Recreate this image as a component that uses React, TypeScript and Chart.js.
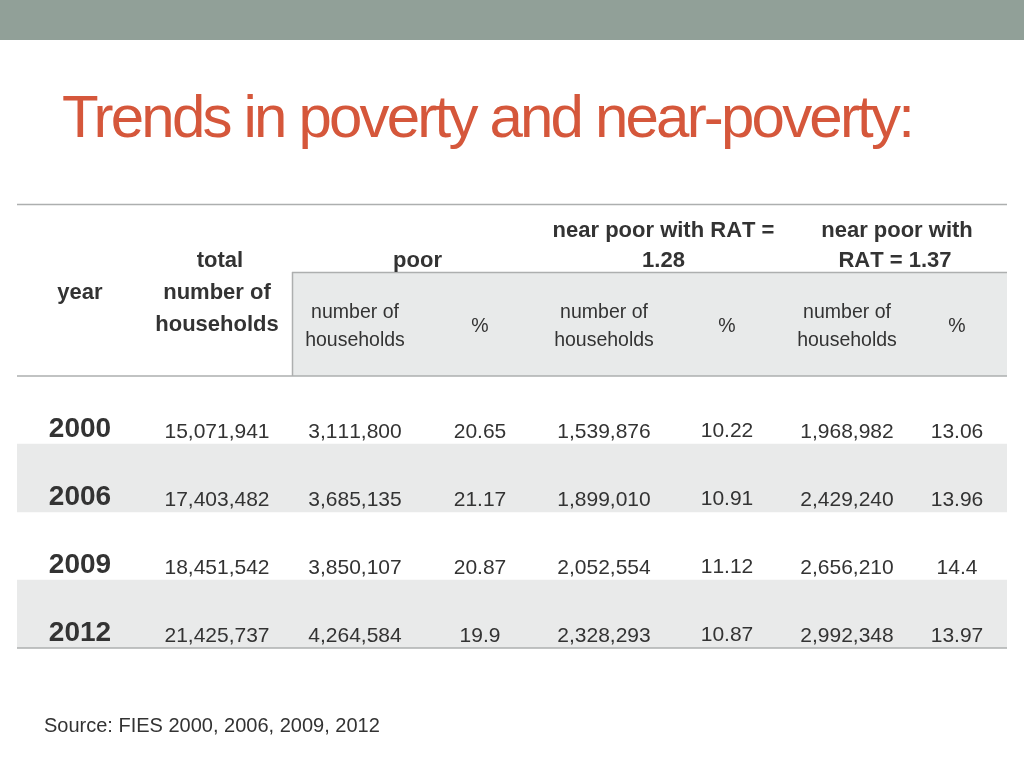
import React, { useEffect, useRef } from "react";
import { Chart, registerables } from "chart.js";

Chart.register(...registerables);

// ---- data ----
const TITLE = "Trends in poverty and near-poverty:";
const SOURCE = "Source: FIES 2000, 2006, 2009, 2012";
const YEARS = ["2000", "2006", "2009", "2012"];
const TOTAL_HH = [15071941, 17403482, 18451542, 21425737];
const POOR_HH = [3111800, 3685135, 3850107, 4264584];
const POOR_PCT = ["20.65", "21.17", "20.87", "19.9"];
const NP128_HH = [1539876, 1899010, 2052554, 2328293];
const NP128_PCT = ["10.22", "10.91", "11.12", "10.87"];
const NP137_HH = [1968982, 2429240, 2656210, 2992348];
const NP137_PCT = ["13.06", "13.96", "14.4", "13.97"];
const GROUP_HEADERS = [
  ["near poor with RAT =", "1.28"],
  ["near poor with", "RAT = 1.37"],
];
const SUB_NUM = ["number of", "households"];
const SUB_PCT = "%";

// ---- layout (positions / styles) ----
const W = 1024;
const H = 768;
const TABLE_LEFT = 17;
const TABLE_RIGHT = 1007;
const BODY_TOP = 376;
const BODY_BOTTOM = 648;
const BOX_LEFT = 292;
const COL_X = [80, 217, 355, 480, 604, 727, 847, 957];
const FONT = '"Liberation Sans", Arial, Helvetica, sans-serif';
const TEXT = "#333333";
const LINE = "#adafaf";
const BAND = "#e9eaea";

const fmt = (v: number) => v.toLocaleString("en-US");

const slidePlugin = {
  id: "slide",
  beforeDraw(chart: any) {
    const ctx = chart.ctx;
    ctx.save();
    ctx.fillStyle = "#ffffff";
    ctx.fillRect(0, 0, W, H);
    ctx.fillStyle = "#91a098";
    ctx.fillRect(0, 0, W, 40);
    ctx.fillStyle = "#e8eaea";
    ctx.fillRect(BOX_LEFT, 272, TABLE_RIGHT - BOX_LEFT, BODY_TOP - 272);
    ctx.restore();
  },
  afterDraw(chart: any) {
    const ctx = chart.ctx;
    const xs = chart.scales.x;
    const ys = chart.scales.y;
    const area = chart.chartArea;
    ctx.save();

    // title
    ctx.font = `60px ${FONT}`;
    ctx.fillStyle = "#d5573b";
    ctx.textAlign = "left";
    ctx.textBaseline = "alphabetic";
    const w = ctx.measureText(TITLE).width;
    const ls = (850 - w) / TITLE.length;
    (ctx as any).letterSpacing = `${ls}px`;
    ctx.fillText(TITLE, 62, 137);
    (ctx as any).letterSpacing = "0px";
    (ctx as any).fontKerning = "none";

    // lines
    ctx.strokeStyle = LINE;
    ctx.lineWidth = 1.5;
    const hl = (x1: number, x2: number, y: number) => {
      ctx.beginPath();
      ctx.moveTo(x1, y);
      ctx.lineTo(x2, y);
      ctx.stroke();
    };
    hl(area.left, area.right, 204.5);
    hl(BOX_LEFT, area.right, 272.5);
    hl(area.left, area.right, area.top);
    hl(area.left, area.right, area.bottom);
    ctx.beginPath();
    ctx.moveTo(BOX_LEFT + 0.5, 272);
    ctx.lineTo(BOX_LEFT + 0.5, area.top);
    ctx.stroke();

    const t = (s: string, x: number, y: number, font: string, align: CanvasTextAlign = "center") => {
      ctx.font = font;
      ctx.textAlign = align;
      ctx.fillText(s, x, y);
    };
    ctx.fillStyle = TEXT;
    ctx.textBaseline = "alphabetic";
    const bold = `bold 22px ${FONT}`;
    const sub = `19.5px ${FONT}`;
    const px = (i: number) => xs.getPixelForValue(COL_X[i]);

    // header
    t(GROUP_HEADERS[0][0], (px(4) + px(5)) / 2 - 2, 237, bold);
    t(GROUP_HEADERS[0][1], (px(4) + px(5)) / 2 - 2, 267, bold);
    t(GROUP_HEADERS[1][0], (px(6) + px(7)) / 2 - 5, 237, bold);
    t(GROUP_HEADERS[1][1], (px(6) + px(7)) / 2 - 7, 267, bold);
    t("total", px(1) + 3, 267, bold);
    t("poor", (px(2) + px(3)) / 2, 267, bold);
    t("year", px(0), 299, bold);
    t("number of", px(1), 299, bold);
    t("households", px(1), 331, bold);
    for (const c of [2, 4, 6]) {
      t(SUB_NUM[0], px(c), 318, sub);
      t(SUB_NUM[1], px(c), 346, sub);
      t(SUB_PCT, px(c + 1), 332, sub);
    }

    // body cells
    const num = `21px ${FONT}`;
    const yb = `bold 28px ${FONT}`;
    YEARS.forEach((yr, i) => {
      const cy = ys.getPixelForValue(i);
      t(yr, px(0), cy + 27, yb);
      t(fmt(TOTAL_HH[i]), px(1), cy + 28, num);
      t(fmt(POOR_HH[i]), px(2), cy + 28, num);
      t(POOR_PCT[i], px(3), cy + 28, num);
      t(fmt(NP128_HH[i]), px(4), cy + 28, num);
      t(NP128_PCT[i], px(5), cy + 27, num);
      t(fmt(NP137_HH[i]), px(6), cy + 28, num);
      t(NP137_PCT[i], px(7), cy + 28, num);
    });

    // source
    t(SOURCE, 44, 732, `20px ${FONT}`, "left");
    ctx.restore();
  },
};

export default function App() {
  const ref = useRef<HTMLCanvasElement | null>(null);
  useEffect(() => {
    if (!ref.current) return;
    const chart = new Chart(ref.current, {
      type: "bar",
      data: {
        labels: YEARS,
        datasets: [
          {
            data: YEARS.map((_, i) => (i % 2 === 1 ? [TABLE_LEFT, TABLE_RIGHT] : null)) as any,
            backgroundColor: BAND,
            borderWidth: 0,
            barPercentage: 1,
            categoryPercentage: 1,
          },
        ],
      },
      options: {
        indexAxis: "y",
        animation: false,
        responsive: false,
        devicePixelRatio: 1,
        layout: {
          padding: { left: TABLE_LEFT, right: W - TABLE_RIGHT, top: BODY_TOP, bottom: H - BODY_BOTTOM },
        },
        scales: {
          x: { type: "linear", min: TABLE_LEFT, max: TABLE_RIGHT, display: false },
          y: { type: "category", display: false, offset: true },
        },
        plugins: { legend: { display: false }, tooltip: { enabled: false }, title: { display: false } },
      },
      plugins: [slidePlugin],
    });
    return () => chart.destroy();
  }, []);
  return (
    <div style={{ position: "absolute", left: 0, top: 0, width: W, height: H }}>
      <canvas ref={ref} width={W} height={H} />
    </div>
  );
}
